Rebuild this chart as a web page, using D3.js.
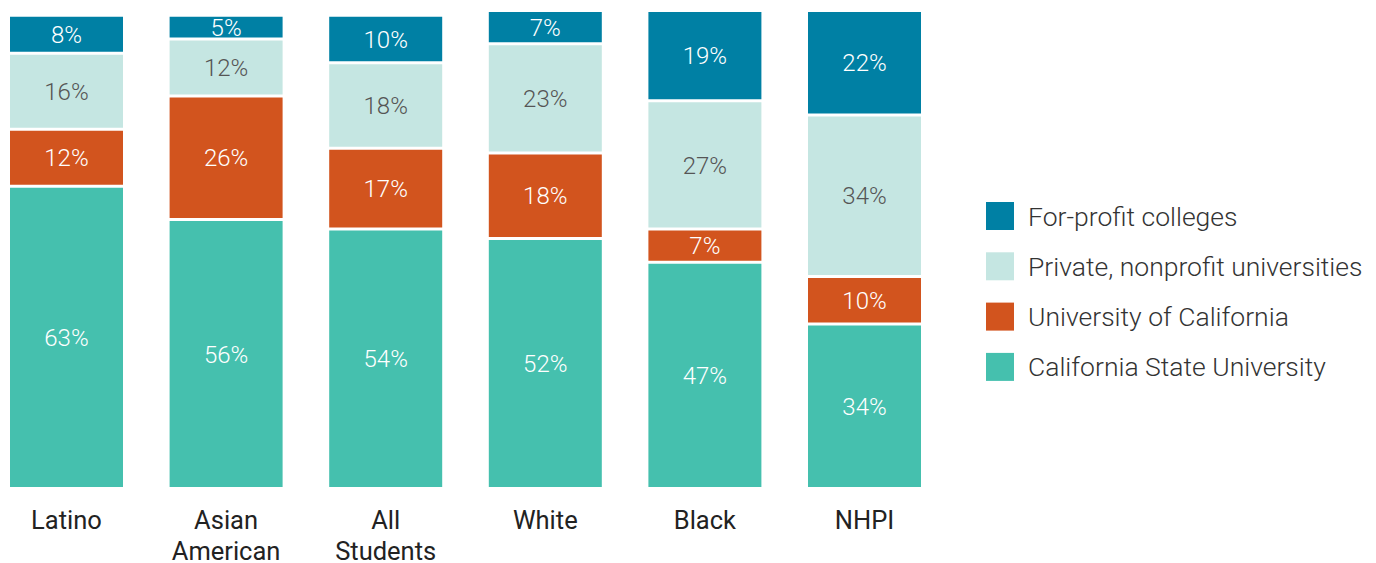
<!DOCTYPE html>
<html><head><meta charset="utf-8">
<script src="https://cdn.jsdelivr.net/npm/d3@7"></script>
<style>body{margin:0;background:#fff;} svg{display:block;font-family:Roboto, "Noto Sans", sans-serif;font-weight:300;}</style>
</head><body>
<svg id="c" width="1376" height="563"></svg>
<script>
const categories = [["Latino"],["Asian","American"],["All","Students"],["White"],["Black"],["NHPI"]];
const seriesNames = ["California State University","University of California","Private, nonprofit universities","For-profit colleges"];
const csu = [63,56,54,52,47,34];
const uc = [12,26,17,18,7,10];
const priv = [16,12,18,23,27,34];
const forprofit = [8,5,10,7,19,22];
const colors = ["#45c0ae","#d2541e","#c5e6e2","#0080a4"];
const textColors = ["#fff","#fff","#555","#fff"];

const svg = d3.select("#c");
const keys = categories.map(c=>c.join(" "));
const rows = keys.map((k,i)=>({key:k, s0:csu[i], s1:uc[i], s2:priv[i], s3:forprofit[i]}));
const stack = d3.stack().keys(["s0","s1","s2","s3"])(rows);

const x = d3.scaleBand().domain(keys).range([10,921]).paddingInner(0.292).paddingOuter(0);
const y = d3.scaleLinear().domain([0,100]).range([487,12]);
const gap = 3;

stack.forEach((layer,li)=>{
  const g = svg.append("g");
  g.selectAll("rect").data(layer).join("rect")
    .attr("x",d=>x(d.data.key))
    .attr("width",x.bandwidth())
    .attr("y",d=>y(d[1]))
    .attr("height",d=>y(d[0])-y(d[1])-(li>0?gap:0))
    .attr("fill",colors[li]);
  g.selectAll("text").data(layer).join("text")
    .attr("x",d=>x(d.data.key)+x.bandwidth()/2)
    .attr("y",d=>(y(d[1])+y(d[0])-(li>0?gap:0))/2)
    .attr("dy","0.36em")
    .attr("text-anchor","middle")
    .attr("font-size",24)
    .attr("fill",textColors[li])
    .text(d=>(d[1]-d[0])+"%");
});

// category labels
const xl = svg.append("g");
categories.forEach((c,i)=>{
  const t = xl.append("text").attr("text-anchor","middle").attr("font-size",25.5).attr("font-weight",400).attr("fill","#222")
    .attr("x",x(keys[i])+x.bandwidth()/2).attr("y",529);
  c.forEach((line,j)=>t.append("tspan").attr("x",x(keys[i])+x.bandwidth()/2).attr("dy",j===0?0:31).text(line));
});

// legend
const legendOrder = [3,2,1,0];
const lg = svg.append("g");
legendOrder.forEach((si,j)=>{
  const cy = 216 + j*50.3;
  lg.append("rect").attr("x",986).attr("y",cy-14).attr("width",28).attr("height",28).attr("fill",colors[si]);
  lg.append("text").attr("x",1028).attr("y",cy).attr("dy","0.36em").attr("font-size",26.5).attr("fill","#333").text(seriesNames[si]);
});
</script>
</body></html>
